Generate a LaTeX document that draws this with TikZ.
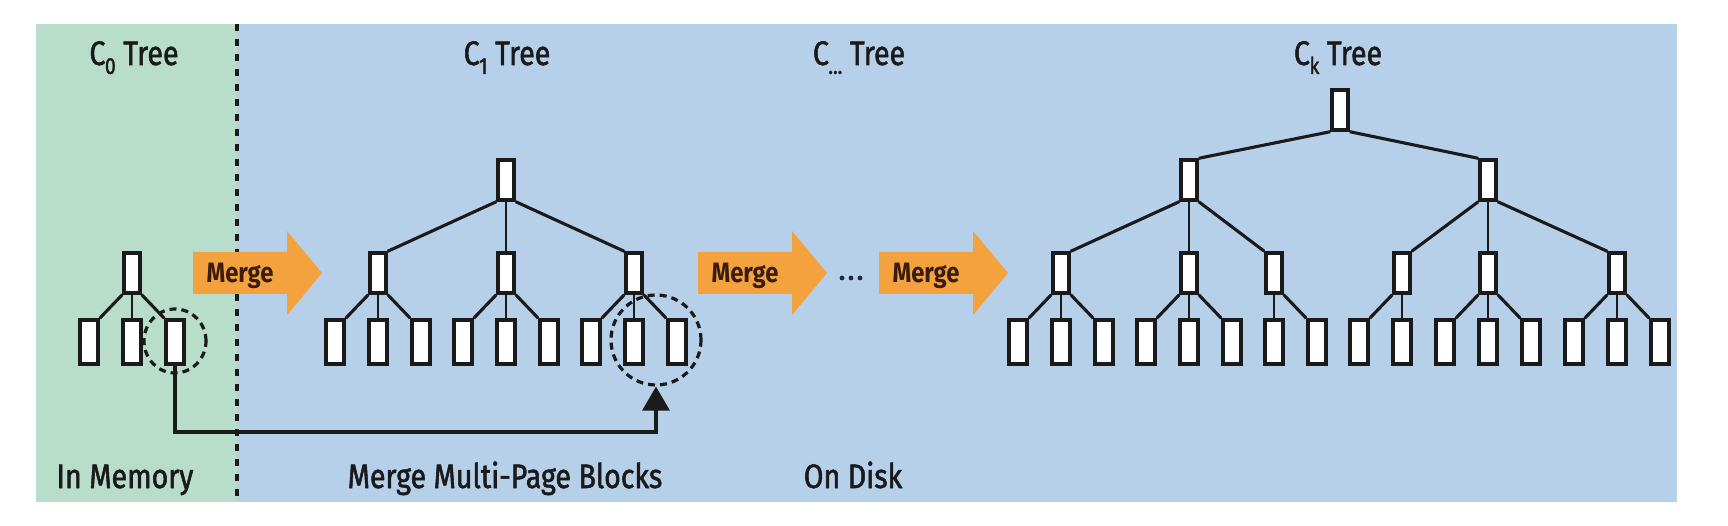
\documentclass[tikz,border=0pt]{standalone}
\usepackage{fontspec}
\setmainfont{Fira Sans}[FakeStretch=0.85]
\newfontfamily\lblfont{Fira Sans}[FakeStretch=0.84, FakeBold=1.6]
\usetikzlibrary{arrows.meta,shapes.geometric}
\definecolor{bgreen}{HTML}{B8DECB}
\definecolor{bblue}{HTML}{B6D0E9}
\definecolor{morange}{HTML}{F4A23E}
\definecolor{mtext}{HTML}{3A1C0C}
\definecolor{ink}{HTML}{1A1A1A}
\definecolor{dotc}{HTML}{1C2A44}
\newcommand\subx[1]{\kern-0.5pt\raisebox{-0.26em}{\fontsize{23}{23}\selectfont #1}}
\newcommand\edgeL[2]{\draw[edge] (#1.south west) -- (#2.north east);}
\newcommand\edgeM[2]{\draw[vedge] (#1.south) -- (#2.north);}
\newcommand\edgeR[2]{\draw[edge] (#1.south east) -- (#2.north west);}
\begin{document}
\begin{tikzpicture}[x=1pt,y=-1pt,
  innerbox/.style={draw=ink, line width=3.4pt, fill=white, minimum width=16pt, minimum height=40pt, inner sep=0pt},
  leafbox/.style={draw=ink, line width=3.4pt, fill=white, minimum width=18pt, minimum height=44pt, inner sep=0pt},
  edge/.style={draw=ink, line width=3.1pt},
  vedge/.style={draw=ink, line width=1.9pt},
  lbl/.style={text=ink, font=\lblfont\fontsize{34}{36}\selectfont, inner sep=0pt, anchor=base},
  mergetxt/.style={text=mtext, font=\fontsize{28}{30}\selectfont\bfseries, inner sep=0pt, anchor=base},
  dcirc/.style={circle, draw=ink, line width=3.2pt, dash pattern=on 7pt off 5pt, inner sep=0pt},
  conn/.style={draw=ink, line width=3.4pt, -{Triangle[width=27pt,length=24pt]}},
  mergearrow/.pic={
    \fill[morange] (-47,-21) -- (47,-21) -- (47,-42) -- (82,0) -- (47,42) -- (47,21) -- (-47,21) -- cycle;
    \node[mergetxt] at (0,10) {Merge};
  }
]
\useasboundingbox (0,0) rectangle (1728,526);
\fill[white] (0,0) rectangle (1728,526);
\fill[bgreen] (36,24) rectangle (237,502);
\fill[bblue] (237,24) rectangle (1677,502);
\coordinate (divtop) at (237,24);
\coordinate (divbot) at (237,502);
\draw[ink, line width=4.5pt, dash pattern=on 7pt off 8pt] (divtop) -- (divbot);

% titles
\node[lbl] (t0) at (134,65) {C\subx{0} Tree};
\node[lbl] (t1) at (507,65) {C\subx{1} Tree};
\node[lbl] (t2) at (859,65) {C\subx{...} Tree};
\node[lbl] (t3) at (1338,65) {C\subx{k} Tree};
% bottom labels
\node[lbl] (b0) at (125,488) {In Memory};
\node[lbl] (b1) at (505,488) {Merge Multi-Page Blocks};
\node[lbl] (b2) at (853,488) {On Disk};

% merge arrows
\pic (m1) at (240,273) {mergearrow};
\pic (m2) at (745,273) {mergearrow};
\pic (m3) at (926,273) {mergearrow};
\fill[dotc] (842,278) circle (2.4) (851,278) circle (2.4) (860,278) circle (2.4);

% C0 tree
\node[innerbox] (a0) at (132,273) {};
\node[leafbox] (a1) at (89,342) {};
\node[leafbox] (a2) at (132,342) {};
\node[leafbox] (a3) at (175,342) {};
\edgeL{a0}{a1}\edgeM{a0}{a2}\edgeR{a0}{a3}

% C1 tree
\node[innerbox] (c1r) at (506,180) {};
\node[innerbox] (c1a) at (378,273) {};
\node[innerbox] (c1b) at (506,273) {};
\node[innerbox] (c1c) at (634,273) {};
\foreach \x [count=\i] in {335,378,421,463,506,549,591,634,677}
  \node[leafbox] (c1l\i) at (\x,342) {};
\edgeL{c1r}{c1a}\edgeM{c1r}{c1b}\edgeR{c1r}{c1c}
\edgeL{c1a}{c1l1}\edgeM{c1a}{c1l2}\edgeR{c1a}{c1l3}
\edgeL{c1b}{c1l4}\edgeM{c1b}{c1l5}\edgeR{c1b}{c1l6}
\edgeL{c1c}{c1l7}\edgeM{c1c}{c1l8}\edgeR{c1c}{c1l9}

% Ck tree
\node[innerbox] (kr) at (1340,110) {};
\node[innerbox] (ka) at (1189,180) {};
\node[innerbox] (kb) at (1488,180) {};
\foreach \x [count=\i] in {1061,1189,1274,1402,1488,1617}
  \node[innerbox] (k\i) at (\x,273) {};
\foreach \x [count=\i] in {1018,1061,1104,1146,1189,1232,1274,1317,1359,1402,1445,1488,1531,1574,1617,1660}
  \node[leafbox] (kl\i) at (\x,342) {};
\edgeL{kr}{ka}\edgeR{kr}{kb}
\edgeL{ka}{k1}\edgeM{ka}{k2}\edgeR{ka}{k3}
\edgeL{kb}{k4}\edgeM{kb}{k5}\edgeR{kb}{k6}
\edgeL{k1}{kl1}\edgeM{k1}{kl2}\edgeR{k1}{kl3}
\edgeL{k2}{kl4}\edgeM{k2}{kl5}\edgeR{k2}{kl6}
\edgeM{k3}{kl7}\edgeR{k3}{kl8}
\edgeL{k4}{kl9}\edgeM{k4}{kl10}
\edgeL{k5}{kl11}\edgeM{k5}{kl12}\edgeR{k5}{kl13}
\edgeL{k6}{kl14}\edgeM{k6}{kl15}\edgeR{k6}{kl16}

% dashed selections and connector
\node[dcirc, ellipse, minimum width=62pt, minimum height=64pt] (dc0) at (175,341) {};
\node[dcirc, minimum size=90pt] (dc1) at (656,340) {};
\coordinate (turn) at (175,432);
\draw[conn] (a3.south) -- (turn) -| (dc1.south);
\end{tikzpicture}
\end{document}
